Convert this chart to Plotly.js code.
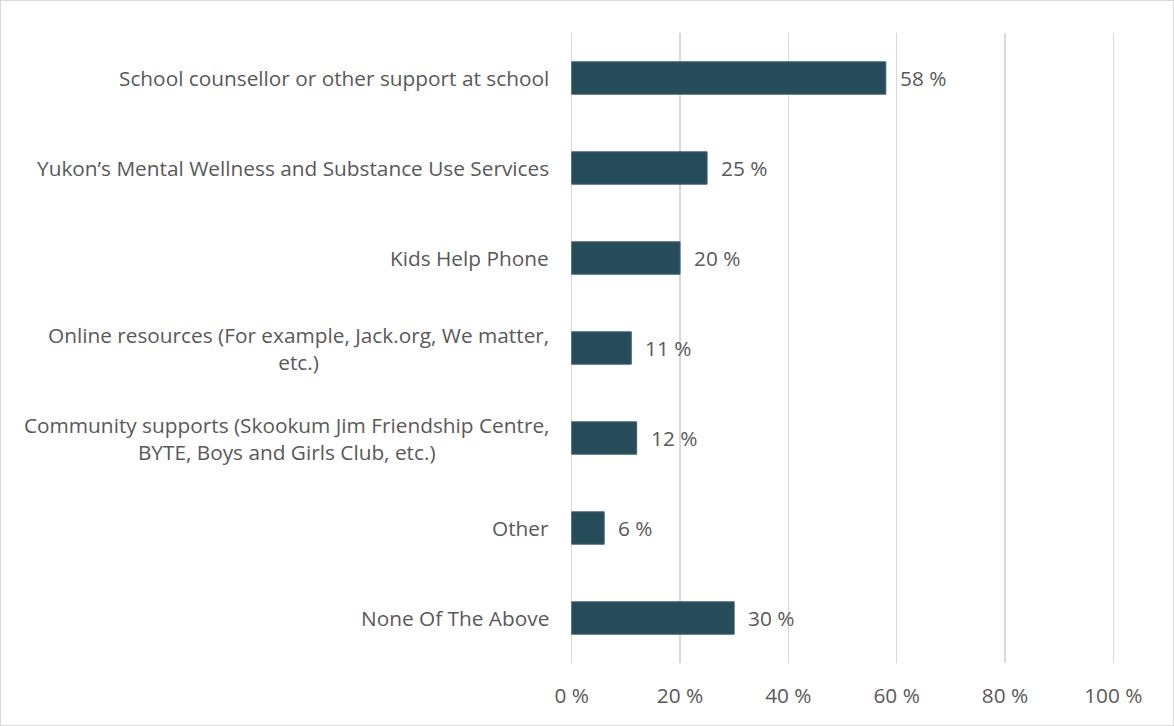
<!DOCTYPE html>
<html>
<head>
<meta charset="utf-8">
<script src="https://cdn.plot.ly/plotly-3.0.1.min.js"></script>
<style>
body{margin:0;padding:0;background:#fff;}
#wrap{position:relative;width:1174px;height:726px;}
#chart{position:absolute;left:0;top:0;width:1174px;height:726px;}
#frame{position:absolute;left:0;top:0;width:1174px;height:726px;box-sizing:border-box;border:1px solid #d9d9d9;pointer-events:none;}
</style>
</head>
<body>
<div id="wrap"><div id="chart"></div><div id="frame"></div></div>
<script>
const categories = [
  "School counsellor or other support at school",
  "Yukon’s Mental Wellness and Substance Use Services",
  "Kids Help Phone",
  "Online resources (For example, Jack.org, We matter,<br>etc.)",
  "Community supports (Skookum Jim Friendship Centre,<br>BYTE, Boys and Girls Club, etc.)",
  "Other",
  "None Of The Above"
];
const values = [58, 25, 20, 11, 12, 6, 30];
const tickValues = [0, 20, 40, 60, 80, 100];
const tickLabels = ["0 %", "20 %", "40 %", "60 %", "80 %", "100 %"];

const FONT = "'Open Sans', sans-serif";
const FS = 20.8;
const TXT = "#595959";
const cats = categories.map((c, i) => "c" + i);

const annotations = [];
categories.forEach((c, i) => {
  annotations.push({
    xref: "paper", yref: "y", x: 0, y: cats[i], xanchor: "right", yanchor: "middle",
    xshift: -18, text: c, showarrow: false, align: "center",
    font: {family: FONT, size: FS, color: TXT}
  });
  annotations.push({
    xref: "x", yref: "y", x: values[i], y: cats[i], xanchor: "left", yanchor: "middle",
    xshift: 12, text: values[i] + " %", showarrow: false,
    font: {family: FONT, size: FS, color: TXT}
  });
});

const trace = {
  type: "bar", orientation: "h",
  x: values, y: cats,
  width: 0.36,
  marker: {color: "#264c5a", line: {color: "#3f6574", width: 1}},
  hoverinfo: "none"
};

const layout = {
  width: 1174, height: 726,
  margin: {l: 569, r: 58, t: 33, b: 63},
  paper_bgcolor: "#fff", plot_bgcolor: "#fff",
  showlegend: false,
  xaxis: {
    range: [-0.5, 100.5], tickvals: tickValues, ticktext: tickLabels,
    showgrid: true, gridcolor: "#d9d9d9", gridwidth: 1.3,
    zeroline: true, zerolinecolor: "#d9d9d9", zerolinewidth: 1.3,
    showline: false, ticks: "outside", ticklen: 14, tickcolor: "rgba(0,0,0,0)",
    tickfont: {family: FONT, size: FS, color: TXT}, fixedrange: true
  },
  yaxis: {
    type: "category", categoryorder: "array", categoryarray: cats,
    autorange: "reversed", range: [6.5, -0.5],
    showticklabels: false, showgrid: false, zeroline: false, showline: false, ticks: "",
    fixedrange: true
  },
  annotations: annotations
};

Plotly.newPlot("chart", [trace], layout, {displayModeBar: false, staticPlot: true});
</script>
</body>
</html>
